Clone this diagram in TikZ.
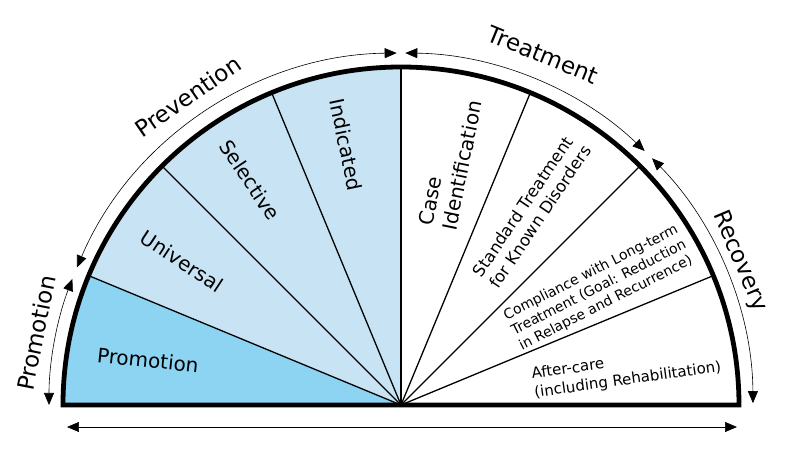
\documentclass[tikz,border=0pt]{standalone}
\usepackage{fontspec}
\setmainfont{DejaVu Sans}
\usetikzlibrary{arrows.meta}
\definecolor{promoblue}{RGB}{141, 212, 243}
\definecolor{prevblue}{RGB}{200, 228, 244}

\begin{document}
\begin{tikzpicture}[x=1pt, y=1pt,
  divider/.style={line width=1.3pt},
  span/.style={{Triangle[length=12pt,width=10pt]}-{Triangle[length=12pt,width=10pt]}, line width=0.6pt},
  phase/.style={font=\fontsize{23}{27}\selectfont, inner sep=0pt},
  stage/.style={font=\fontsize{20}{24}\selectfont, inner sep=0pt, align=left}]
\useasboundingbox (-401,-45) rectangle (395,405);
\coordinate (c) at (0,0);

% Sector fills
\fill[promoblue] (c) -- (180:338) arc[start angle=180, end angle=157.5, radius=338] -- cycle;
\fill[prevblue] (c) -- (157.5:338) arc[start angle=157.5, end angle=90, radius=338] -- cycle;

% Dividers and outline
\foreach \a in {22.5,45,67.5,90,112.5,135,157.5}
  \draw[divider] (c) -- (\a:338);
\draw[line width=4.8pt, line join=miter] (180:338) arc[start angle=180, end angle=0, radius=338] -- cycle;

% Phase arrows round the rim
\coordinate (promoS) at (180:352);
\coordinate (prevS) at (157:352);
\coordinate (treatS) at (89.3:352);
\coordinate (recovS) at (44.5:352);
\draw[span] (promoS) arc[start angle=180, end angle=159, radius=352];
\draw[span] (prevS) arc[start angle=157, end angle=90.7, radius=352];
\draw[span] (treatS) arc[start angle=89.3, end angle=46.2, radius=352];
\draw[span] (recovS) arc[start angle=44.5, end angle=0.3, radius=352];

% Base arrow
\coordinate (baseL) at (-334,-22);
\coordinate (baseR) at (336,-22);
\draw[span] (baseL) -- (baseR);

% Phase labels
\node[phase, rotate=78.8] (promoTag) at (168.8:372) {Promotion};
\node[phase, rotate=34.6] (prevTag) at (124.6:375) {Prevention};
\node[phase, rotate=-22.1] (treatTag) at (67.9:378) {Treatment};
\node[phase, rotate=-67] (recovTag) at (23:368) {Recovery};

% Sector labels
\node[stage, rotate=-6] (promoTxt) at (169.9:257) {Promotion};
\node[stage, rotate=-33.3] (univTxt) at (146.7:262) {Universal};
\node[stage, rotate=-56] (selTxt) at (123.9:271) {Selective};
\node[stage, rotate=-78] (indTxt) at (101.9:266) {Indicated};
\node[stage, rotate=78.5] (caseTxt) at (78.5:247) {Case\\Identification};
\node[stage, rotate=56, font=\fontsize{16.5}{20}\selectfont] (stdTxt) at (56:234) {Standard Treatment\\for Known Disorders};
\node[stage, rotate=27, font=\fontsize{14}{17}\selectfont] (compTxt) at (30.6:230) {Compliance with Long-term\\Treatment (Goal: Reduction\\in Relapse and Recurrence)};
\node[stage, rotate=8, font=\fontsize{15}{19}\selectfont] (afterTxt) at (8.6:228) {After-care\\(including Rehabilitation)};
\end{tikzpicture}
\end{document}
